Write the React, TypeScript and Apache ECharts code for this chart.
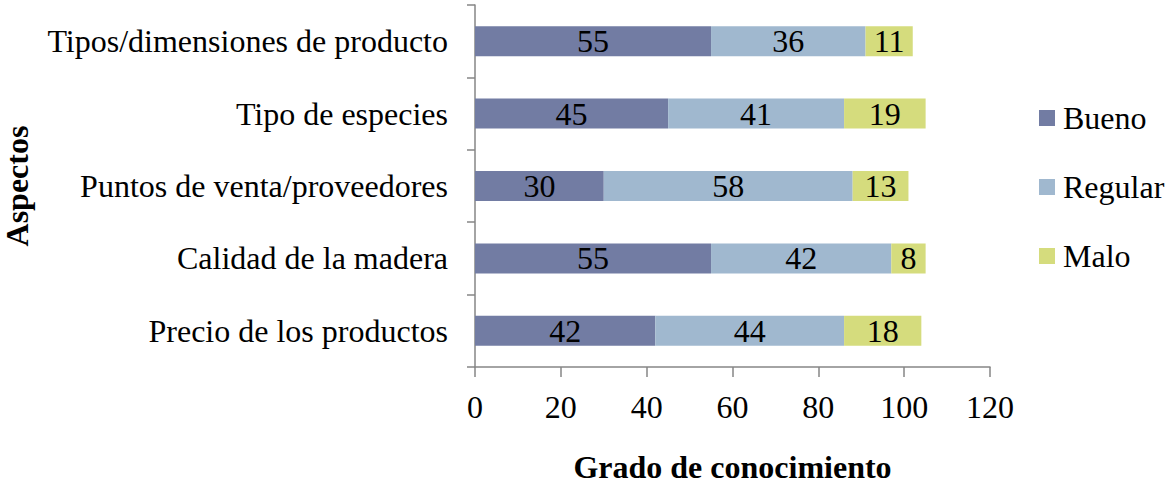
import React, { useEffect, useRef } from "react";
import * as echarts from "echarts";

const categories = [
  "Precio de los productos",
  "Calidad de la madera",
  "Puntos de venta/proveedores",
  "Tipo de especies",
  "Tipos/dimensiones de producto",
];
const bueno = [42, 55, 30, 45, 55];
const regular = [44, 42, 58, 41, 36];
const malo = [18, 8, 13, 19, 11];
const seriesNames = ["Bueno", "Regular", "Malo"];
const colors = ["#727CA3", "#A0B8CF", "#D5DC7D"];

const FONT = "Liberation Serif";
const FS = 32;

export default function App() {
  const ref = useRef<HTMLDivElement>(null);
  useEffect(() => {
    if (!ref.current) return;
    const chart = echarts.init(ref.current, undefined, { renderer: "svg" });
    const mk = (name: string, data: number[], color: string) => ({
      name,
      type: "bar",
      stack: "total",
      barWidth: 30,
      data,
      itemStyle: { color },
      label: {
        show: true,
        position: "inside",
        color: "#000",
        fontFamily: FONT,
        fontSize: FS,
      },
    });
    chart.setOption({
      animation: false,
      backgroundColor: "#fff",
      textStyle: { fontFamily: FONT },
      grid: { left: 470, right: 177, top: 5, bottom: 117, containLabel: false },
      legend: {
        orient: "vertical",
        left: 1039,
        top: 102,
        padding: 0,
        itemWidth: 16,
        itemHeight: 16,
        itemGap: 37,
        icon: "rect",
        data: seriesNames,
        textStyle: {
          fontFamily: FONT,
          fontSize: FS,
          color: "#000",
          padding: [0, 0, 0, 3],
        },
      },
      xAxis: {
        type: "value",
        min: 0,
        max: 120,
        interval: 20,
        name: "Grado de conocimiento",
        nameLocation: "middle",
        nameGap: 84,
        nameTextStyle: { fontFamily: FONT, fontSize: FS, fontWeight: "bold", color: "#000" },
        axisLine: { show: true, lineStyle: { color: "#868686", width: 1.5 } },
        axisTick: { show: true, length: 10, lineStyle: { color: "#868686", width: 1.5 } },
        axisLabel: { fontFamily: FONT, fontSize: FS, color: "#000", margin: 24 },
        splitLine: { show: false },
      },
      yAxis: {
        type: "category",
        data: categories,
        name: "Aspectos",
        nameLocation: "middle",
        nameGap: 442,
        nameTextStyle: { fontFamily: FONT, fontSize: FS, fontWeight: "bold", color: "#000" },
        axisLine: { show: true, lineStyle: { color: "#868686", width: 1.5 } },
        axisTick: { show: true, length: 8, lineStyle: { color: "#868686", width: 1.5 } },
        axisLabel: { fontFamily: FONT, fontSize: FS, color: "#000", margin: 27 },
      },
      series: [
        mk(seriesNames[0], bueno, colors[0]),
        mk(seriesNames[1], regular, colors[1]),
        mk(seriesNames[2], malo, colors[2]),
      ],
    });
    return () => chart.dispose();
  }, []);
  return (
    <div
      ref={ref}
      style={{ position: "fixed", left: 0, top: 0, width: 1167, height: 488 }}
    />
  );
}
